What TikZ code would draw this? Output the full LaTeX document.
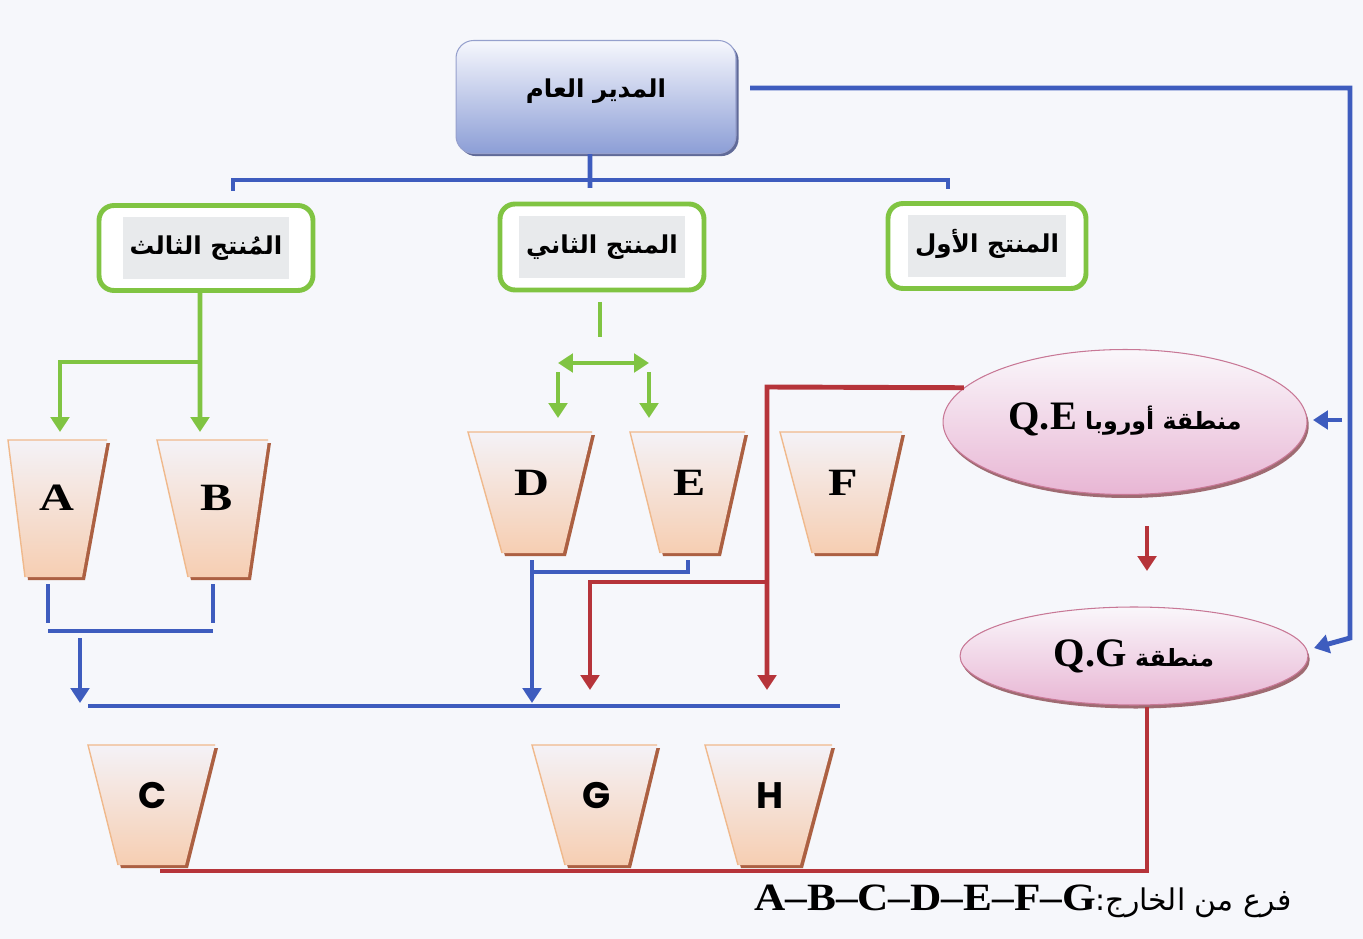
\documentclass[tikz,border=0pt]{standalone}
\usepackage{fontspec}
\setmainfont{Liberation Serif}
\newfontfamily\arabicfont[Script=Arabic]{DejaVu Sans}
\newfontfamily\geofont{Poppins}
\TeXXeTstate=1
\usetikzlibrary{arrows.meta,shadows,shapes.geometric,calc}

\definecolor{bg}{RGB}{246,247,251}
\definecolor{linkblue}{RGB}{62,92,190}
\definecolor{linkgreen}{RGB}{128,196,66}
\definecolor{linkred}{RGB}{182,52,58}
\definecolor{boxtop}{RGB}{246,247,253}
\definecolor{boxbot}{RGB}{140,158,214}
\definecolor{boxedge}{RGB}{150,160,205}
\definecolor{boxshadow}{RGB}{70,82,135}
\definecolor{elltop}{RGB}{250,247,251}
\definecolor{ellbot}{RGB}{232,182,212}
\definecolor{elledge}{RGB}{200,120,150}
\definecolor{ellshadow}{RGB}{150,92,100}
\definecolor{pottop}{RGB}{244,242,247}
\definecolor{potbot}{RGB}{246,206,178}
\definecolor{potedge}{RGB}{240,185,140}
\definecolor{potshadow}{RGB}{172,96,66}
\definecolor{labelbg}{RGB}{232,234,236}

\tikzset{
  blueline/.style={draw=linkblue, line width=2.8pt},
  greenline/.style={draw=linkgreen, line width=2.8pt},
  redline/.style={draw=linkred, line width=2.8pt},
  tip/.style={-{Triangle[length=8.5pt,width=10.5pt]}},
  twotips/.style={{Triangle[length=8.5pt,width=10.5pt]}-{Triangle[length=8.5pt,width=10.5pt]}},
  headbox/.style={rounded corners=10pt, top color=boxtop, bottom color=boxbot,
    draw=boxedge, line width=0.6pt, minimum width=5.6cm, minimum height=2.26cm,
    drop shadow={shadow xshift=1.5pt, shadow yshift=-1.5pt, fill=boxshadow, opacity=0.85}},
  prodbox/.style={rounded corners=8.5pt, draw=linkgreen, line width=2.8pt, fill=white,
    inner sep=0pt},
  region/.style={ellipse, top color=elltop, bottom color=ellbot, draw=elledge,
    line width=0.6pt, inner sep=0pt,
    drop shadow={shadow xshift=1pt, shadow yshift=-2pt, fill=ellshadow, opacity=0.9}},
  potserif/.style={inner sep=0pt, font=\fontsize{22}{22}\selectfont\bfseries},
  potsans/.style={inner sep=0pt, font=\geofont\fontsize{21}{21}\selectfont\bfseries},
}

% inverted trapezoid: name, top-left x, top-right x, bottom-left x, bottom-right x,
% top y, bottom y, label style, label
\newcommand\drawpot[9]{%
  \fill[potshadow] (#2+3,#6+3) -- (#3+3,#6+3) -- (#5+3,#7+3) -- (#4+3,#7+3) -- cycle;
  \shade[top color=pottop,bottom color=potbot] (#2,#6) -- (#3,#6) -- (#5,#7) -- (#4,#7) -- cycle;
  \draw[potedge,line width=0.8pt] (#4,#7) -- (#2,#6) -- (#3,#6);
  \node[#8] (#1) at ({(#2+#3+#4+#5)/4+1},{0.58*#6+0.42*#7}) {#9};
}

\newcommand\prodtext[1]{\setlength\fboxsep{4pt}\colorbox{labelbg}{\rule[-10pt]{0pt}{27pt}\fontsize{14}{14}\selectfont\arabicfont\bfseries\beginR #1\endR}}

\begin{document}
\begin{tikzpicture}[x=0.02cm,y=-0.02cm]
\useasboundingbox (0,0) rectangle (1363,939);
\fill[bg] (0,0) rectangle (1363,939);

% general manager
\node[headbox] (gm) at (596,97)
  {\raisebox{10pt}{\fontsize{14}{14}\selectfont\arabicfont\bfseries\beginR المدير العام\endR}};

% product divisions
\node[prodbox, minimum width=4.28cm, minimum height=1.7cm] (p3) at (206,248) {\prodtext{المُنتج الثالث}};
\node[prodbox, minimum width=4.08cm, minimum height=1.72cm] (p2) at (602,247) {\prodtext{المنتج الثاني}};
\node[prodbox, minimum width=3.96cm, minimum height=1.7cm] (p1) at (987,246) {\prodtext{المنتج الأول}};

% regions
\node[region, minimum width=7.28cm, minimum height=2.9cm] (qe) at (1125,422)
  {\raisebox{7pt}{\fontsize{13.5}{14}\selectfont\arabicfont\bfseries\beginR منطقة أوروبا\ {\rmfamily\fontsize{23}{23}\selectfont\bfseries\beginL Q.E\endL}\endR}};
\node[region, minimum width=6.96cm, minimum height=1.96cm] (qg) at (1134,656)
  {\raisebox{2pt}{\fontsize{13.5}{14}\selectfont\arabicfont\bfseries\beginR منطقة\ {\rmfamily\fontsize{23}{23}\selectfont\bfseries\beginL Q.G\endL}\endR}};

% plants
\drawpot{A}{8}{107}{25}{82}{440}{577}{potserif}{\scalebox{1.25}[1]{A}}
\drawpot{B}{157}{268}{188}{248}{440}{577}{potserif}{\scalebox{1.25}[1]{B}}
\drawpot{D}{468}{592}{502}{563}{432}{553}{potserif}{\scalebox{1.25}[1]{D}}
\drawpot{E}{630}{745}{660}{718}{432}{553}{potserif}{\scalebox{1.25}[1]{E}}
\drawpot{F}{780}{902}{812}{875}{432}{553}{potserif}{\scalebox{1.25}[1]{F}}
\drawpot{C}{88}{215}{118}{185}{745}{865}{potsans}{C}
\drawpot{G}{532}{657}{565}{628}{745}{865}{potsans}{G}
\drawpot{H}{705}{832}{738}{800}{745}{865}{potsans}{H}

% junction and tip points
\coordinate (gmout) at (750,88);
\coordinate (qein) at (1313,420);
\coordinate (qgin) at (1314,648);
\coordinate (toA) at (60,432);
\coordinate (toB) at (200,432);
\coordinate (toD) at (558,418);
\coordinate (toE) at (649,418);
\coordinate (toG) at (590,690);
\coordinate (toH) at (767,690);
\coordinate (busC) at (80,703);
\coordinate (busD) at (532,703);

% head office to product divisions
\draw[blueline] ([xshift=-0.12cm]gm.south) -- (590,188);
\draw[blueline] (233,191) -- (233,180) -- (948,180) -- (948,189);

% head office to the regions
\draw[blueline,tip] (gmout) -- (1350,88) -- (1350,638) -- (qgin);
\draw[blueline,tip] (1342,420) -- (qein);

% third product to A and B
\draw[greenline,tip] ([xshift=-0.12cm]p3.south) -- (toB);
\draw[greenline,tip] (200,362) -- (60,362) -- (toA);

% second product to D and E
\draw[greenline] (600,302) -- (600,337);
\draw[greenline,twotips] (558,363) -- (649,363);
\draw[greenline,tip] (558,372) -- (toD);
\draw[greenline,tip] (649,372) -- (toE);

% A and B towards C
\draw[blueline] (48,584) -- (48,623);
\draw[blueline] (213,584) -- (213,623);
\draw[blueline] (48,631) -- (213,631);
\draw[blueline,tip] (80,638) -- (busC);

% D and E towards the lower bus
\draw[blueline] (688,560) -- (688,572) -- (532,572);
\draw[blueline,tip] (532,560) -- (busD);
\draw[blueline] (88,706) -- (840,706);

% Europe region to G and H
\draw[redline,tip] (qe.168) -- (767,387) -- (toH);
\draw[redline,tip] (767,582) -- (590,582) -- (toG);

% Europe region to Q.G region
\draw[redline,tip] (1147,526) -- (1147,571);

% Q.G region back to C
\draw[redline] (1147,707) -- (1147,871) -- (160,871);

% footnote
\node[anchor=east, inner sep=0pt] (note) at (1292,901)
  {\fontsize{17}{17}\selectfont\arabicfont\beginR فرع من الخارج:{\rmfamily\fontsize{22}{22}\selectfont\bfseries\beginL\scalebox{1.12}[1]{A–B–C–D–E–F–G}\endL}\endR};
\end{tikzpicture}
\end{document}
